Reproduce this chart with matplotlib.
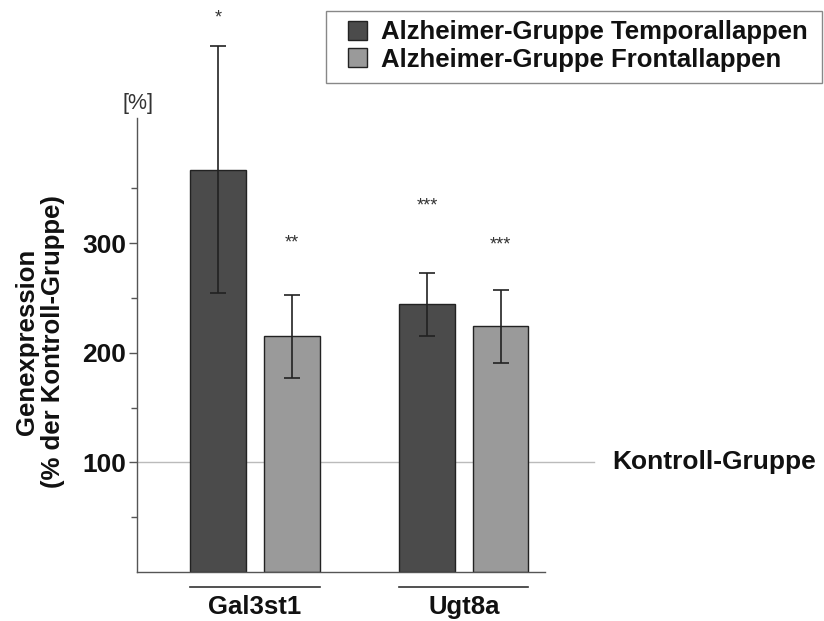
import numpy as np
import matplotlib.pyplot as plt
from matplotlib.patches import Patch, Rectangle

plt.rcParams['font.family'] = ['Liberation Sans', 'DejaVu Sans']

gene = ['Gal3st1', 'Ugt8a']
serien = ['Alzheimer-Gruppe Temporallappen', 'Alzheimer-Gruppe Frontallappen']
temporal = [367, 244]
temporal_err = [113, 29]
frontal = [215, 224]
frontal_err = [38, 33]
sterne_temporal = ['*', '***']
sterne_frontal = ['**', '***']
stern_hoehe_temporal = [505, 334]
stern_hoehe_frontal = [300, 298]

dunkel = '#4b4b4b'
hell = '#9a9a9a'

fig = plt.figure(figsize=(8.24, 6.21), dpi=100)
ax = fig.add_axes([137/824, 49/621, 408/824, 454/621])

x = np.arange(len(gene))
b = 0.268
d = 0.175

ax.bar(x - d, temporal, b, color=dunkel, edgecolor='#222222', linewidth=1, zorder=2)
ax.bar(x + d, frontal, b, color=hell, edgecolor='#222222', linewidth=1, zorder=2)
for xs, ys, es in [(x - d, temporal, temporal_err), (x + d, frontal, frontal_err)]:
    eb = ax.errorbar(xs, ys, yerr=es, fmt='none', ecolor='#222222',
                     elinewidth=1.2, capsize=6, capthick=1.2, zorder=3)
    for art in eb.lines[1] + eb.lines[2]:
        art.set_clip_on(False)

for i in range(len(gene)):
    ax.text(x[i] - d, stern_hoehe_temporal[i], sterne_temporal[i], ha='center', va='center',
            fontsize=13, color='#333333', clip_on=False)
    ax.text(x[i] + d, stern_hoehe_frontal[i], sterne_frontal[i], ha='center', va='center',
            fontsize=13, color='#333333', clip_on=False)

# Kontrolllinie bei 100 %
ax.plot([0, 1.12], [100, 100], transform=ax.get_yaxis_transform(), color='#bbbbbb',
        linewidth=1, clip_on=False, zorder=1)
fig.text(612/824, 1 - 462/621, 'Kontroll-Gruppe', ha='left', va='center', fontsize=19,
         fontweight='bold', color='#111111')

ax.set_xlim(-0.565, 1.388)
ax.set_ylim(0, 414)
ax.set_yticks([100, 200, 300])
ax.set_yticks([50, 150, 250, 350], minor=True)
ax.set_xticks([])
for t in ax.get_yticklabels():
    t.set_fontweight('bold')
ax.tick_params(axis='y', which='major', labelsize=19, length=6, width=1, color='#555555',
               pad=2, labelcolor='#111111')
ax.tick_params(axis='y', which='minor', length=4, width=1, color='#555555')
for s in ['top', 'right']:
    ax.spines[s].set_visible(False)
for s in ['left', 'bottom']:
    ax.spines[s].set_color('#555555')
    ax.spines[s].set_linewidth(1)

fig.text(40/824, 1 - 342/621, 'Genexpression\n(% der Kontroll-Gruppe)', rotation=90,
         ha='center', va='center', fontsize=18.5, fontweight='bold', color='#111111',
         linespacing=1.1, multialignment='center')
fig.text(138/824, 1 - 104/621, '[%]', ha='center', va='center', fontsize=15.5, color='#333333')

# Gruppenbeschriftung unter der Achse
for i, g in enumerate(gene):
    ax.plot([x[i] - d - b/2, x[i] + d + b/2], [-0.033, -0.033], transform=ax.get_xaxis_transform(),
            color='#333333', linewidth=1.2, clip_on=False)
    ax.text(x[i], -0.078, g, transform=ax.get_xaxis_transform(), ha='center', va='center',
            fontsize=18.5, fontweight='bold', color='#111111')

# Legende mit eigenem Rahmen
fig.patches.append(Rectangle((326/824, 1 - 83/621), (822 - 326)/824, 72/621,
                             transform=fig.transFigure, facecolor='white', edgecolor='#888888',
                             linewidth=1, zorder=0))
handles = [Patch(facecolor=dunkel, edgecolor='#222222'), Patch(facecolor=hell, edgecolor='#222222')]
leg = fig.legend(handles, serien, loc='center left', bbox_to_anchor=(348/824, 1 - 46/621),
                 prop={'size': 18.5, 'weight': 'bold'}, frameon=False,
                 handlelength=0.75, handleheight=0.75, handletextpad=0.55,
                 borderpad=0, labelspacing=0.12, borderaxespad=0)
for t in leg.get_texts():
    t.set_color('#111111')

fig.savefig('out.png', dpi=100)
